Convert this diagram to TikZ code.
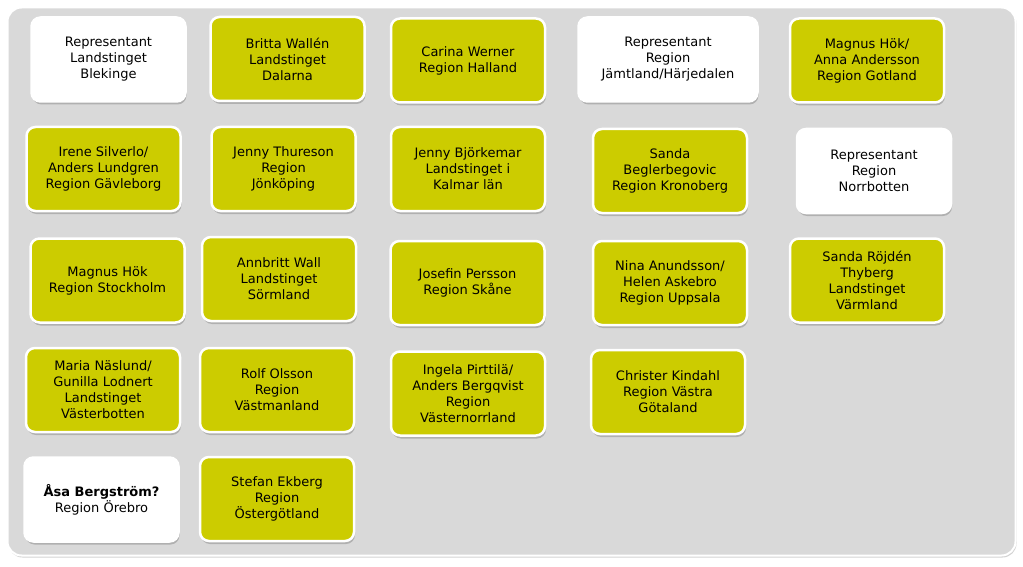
\documentclass[tikz,border=0pt]{standalone}
\usepackage{fontspec}
\setmainfont{DejaVu Sans}
\usetikzlibrary{shadows}
\definecolor{memberfill}{RGB}{204,204,0}
\definecolor{panelgray}{RGB}{217,217,217}

\begin{document}
\begin{tikzpicture}[x=1pt, y=-1pt,
    panel/.style={rectangle, rounded corners=14pt, draw=white, line width=2pt,
                  fill=panelgray, minimum width=1008pt, minimum height=548pt,
                  drop shadow={shadow xshift=1pt, shadow yshift=-2pt, opacity=.35}},
    member/.style={rectangle, rounded corners=9pt, draw=white, line width=2.5pt,
                   fill=memberfill, minimum width=154pt, minimum height=84pt,
                   font=\fontsize{13}{16}\selectfont, align=center, inner sep=2pt,
                   drop shadow={shadow xshift=1pt, shadow yshift=-3pt, opacity=.45}},
    vacant/.style={member, fill=white},
]
\useasboundingbox (0,0) rectangle (1023,567);

\node[panel] (panel) at (511.5,281.5) {};

% row 1
\node[vacant] (blekinge) at (108.5,59.5) {Representant\\Landstinget\\Blekinge};
\node[member] (dalarna)  at (287.5,59)   {Britta Wallén\\Landstinget\\Dalarna};
\node[member] (halland)  at (468,60.5)   {Carina Werner\\Region Halland};
\node[vacant, minimum width=179pt] (jamtland) at (668,59.5)
     {Representant\\Region\\Jämtland/Härjedalen};
\node[member] (gotland)  at (867,60.5)   {Magnus Hök/\\Anna Andersson\\Region Gotland};

% row 2
\node[member] (gavleborg) at (103.5,169) {Irene Silverlo/\\Anders Lundgren\\Region Gävleborg};
\node[member, minimum width=144pt] (jonkoping) at (283.5,169) {Jenny Thureson\\Region\\Jönköping};
\node[member] (kalmar)    at (468,169)   {Jenny Björkemar\\Landstinget i\\Kalmar län};
\node[member] (kronoberg) at (670,171)   {Sanda\\Beglerbegovic\\Region Kronoberg};
\node[vacant] (norrbotten) at (874,171)  {Representant\\Region\\Norrbotten};

% row 3
\node[member] (stockholm) at (107.5,280.5) {Magnus Hök\\Region Stockholm};
\node[member] (sormland)  at (279,279)     {Annbritt Wall\\Landstinget\\Sörmland};
\node[member] (skane)     at (467.5,283)   {Josefin Persson\\Region Skåne};
\node[member] (uppsala)   at (670,283)     {Nina Anundsson/\\Helen Askebro\\Region Uppsala};
\node[member] (varmland)  at (867,280.5)   {Sanda Röjdén\\Thyberg\\Landstinget\\Värmland};

% row 4
\node[member] (vasterbotten)  at (103,390)   {Maria Näslund/\\Gunilla Lodnert\\Landstinget\\Västerbotten};
\node[member] (vastmanland)   at (277,390)   {Rolf Olsson\\Region\\Västmanland};
\node[member] (vasternorrland) at (468,393.5) {Ingela Pirttilä/\\Anders Bergqvist\\Region\\Västernorrland};
\node[member] (vgotaland)     at (668,392)   {Christer Kindahl\\Region Västra\\Götaland};

% row 5
\node[vacant] (orebro)       at (101.5,499.5) {\textbf{Åsa Bergström?}\\Region Örebro};
\node[member] (ostergotland) at (277,499)     {Stefan Ekberg\\Region\\Östergötland};

\end{tikzpicture}
\end{document}
